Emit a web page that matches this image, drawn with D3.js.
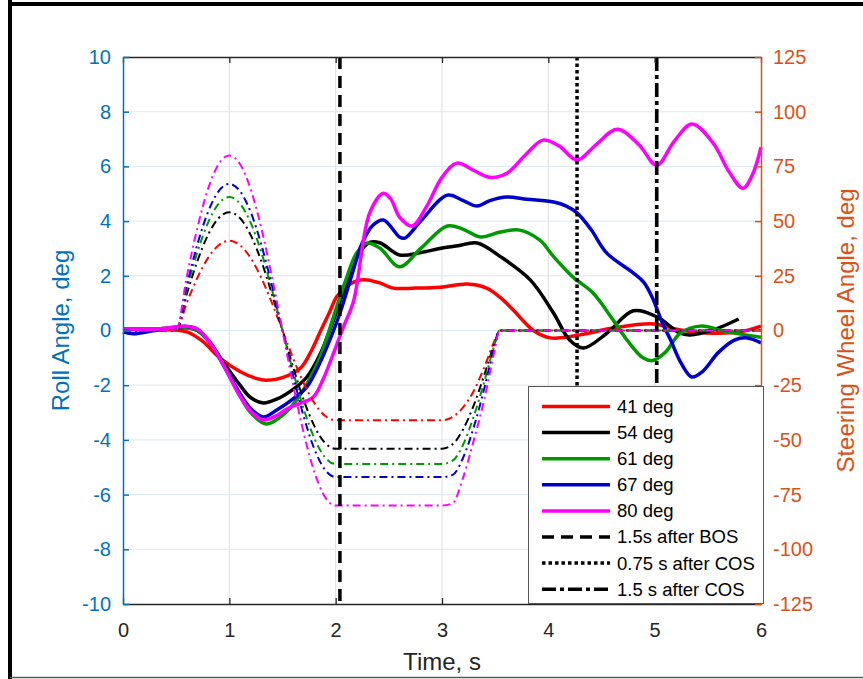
<!DOCTYPE html>
<html>
<head>
<meta charset="utf-8">
<script src="https://cdn.jsdelivr.net/npm/d3@7"></script>
<style>
  body { margin: 0; background: #fff; }
  text { font-family: "Liberation Sans", Arial, sans-serif; }
</style>
</head>
<body>
<div id="app"></div>
<script>
// roll angle (left axis), [time, deg]
const roll41 = [[0,0.05],[0.3,0.03],[0.6,-0.05],[0.75,-0.4],[0.91,-1.0],[1.1,-1.5],[1.25,-1.75],[1.35,-1.82],[1.5,-1.72],[1.67,-1.37],[1.77,-0.75],[1.86,0],[1.94,0.65],[2.01,1.23],[2.1,1.6],[2.2,1.82],[2.3,1.85],[2.42,1.73],[2.54,1.55],[2.75,1.55],[2.98,1.58],[3.24,1.7],[3.42,1.55],[3.55,1.2],[3.67,0.75],[3.86,0],[4.02,-0.27],[4.3,-0.16],[4.61,0.09],[4.99,0.24],[5.24,0.02],[5.55,-0.1],[5.8,-0.05],[6.0,0.16]]
const roll54 = [[0,0.05],[0.3,0.05],[0.6,0.1],[0.7,0.0],[0.82,-0.45],[0.95,-1.2],[1.1,-2.0],[1.2,-2.45],[1.32,-2.65],[1.45,-2.5],[1.6,-2.15],[1.73,-1.7],[1.85,-0.9],[1.98,0.38],[2.1,1.7],[2.2,2.7],[2.32,3.22],[2.42,3.2],[2.6,2.76],[2.8,2.85],[2.98,3.0],[3.15,3.1],[3.33,3.2],[3.55,2.7],[3.83,1.85],[4.05,0.63],[4.2,-0.35],[4.33,-0.64],[4.55,-0.1],[4.8,0.72],[5.02,0.5],[5.24,-0.1],[5.33,-0.16],[5.55,0.02],[5.79,0.42]]
const roll61 = [[0,0.05],[0.3,0.05],[0.6,0.1],[0.7,0.0],[0.82,-0.45],[0.95,-1.3],[1.1,-2.4],[1.2,-3.0],[1.35,-3.42],[1.5,-3.1],[1.6,-2.7],[1.73,-1.95],[1.85,-1.0],[1.98,0.5],[2.1,1.9],[2.2,2.85],[2.3,3.2],[2.42,3.0],[2.6,2.33],[2.8,3.0],[3.05,3.82],[3.2,3.7],[3.36,3.42],[3.55,3.6],[3.73,3.67],[3.92,3.3],[4.05,2.7],[4.23,1.96],[4.42,1.37],[4.61,0.38],[4.75,-0.4],[4.89,-1.0],[4.98,-1.1],[5.1,-0.8],[5.24,-0.1],[5.43,0.16],[5.68,-0.05],[6.0,-0.25]]
const roll67 = [[0,-0.05],[0.1,-0.12],[0.3,0],[0.6,0.15],[0.7,0.05],[0.82,-0.45],[0.95,-1.3],[1.1,-2.3],[1.2,-2.85],[1.32,-3.16],[1.45,-2.9],[1.6,-2.5],[1.73,-2.06],[1.85,-1.2],[1.95,-0.3],[2.04,0.63],[2.15,2.0],[2.25,3.2],[2.35,3.85],[2.45,4.04],[2.6,3.42],[2.65,3.38],[2.8,4.0],[3.05,4.95],[3.2,4.75],[3.33,4.55],[3.45,4.75],[3.61,4.88],[3.8,4.8],[4.05,4.7],[4.17,4.55],[4.27,4.3],[4.4,3.7],[4.55,2.83],[4.8,2.1],[4.9,1.75],[4.99,1.1],[5.07,0.3],[5.15,-0.35],[5.25,-1.2],[5.35,-1.7],[5.45,-1.5],[5.6,-0.8],[5.75,-0.35],[5.87,-0.27],[6.0,-0.45]]
const roll80 = [[0,0.05],[0.3,0.05],[0.6,0.15],[0.7,0.05],[0.82,-0.45],[0.95,-1.3],[1.1,-2.4],[1.2,-2.95],[1.32,-3.27],[1.45,-3.1],[1.55,-2.85],[1.67,-2.66],[1.79,-2.43],[1.88,-1.8],[1.98,-0.83],[2.07,0.1],[2.17,1.1],[2.32,4.3],[2.45,5.02],[2.52,4.8],[2.6,4.15],[2.72,3.82],[2.85,4.5],[3.0,5.6],[3.14,6.12],[3.3,5.85],[3.45,5.6],[3.61,5.75],[3.78,6.4],[3.95,6.96],[4.1,6.75],[4.27,6.23],[4.45,6.8],[4.65,7.36],[4.85,6.8],[5.02,6.04],[5.18,6.9],[5.35,7.55],[5.55,6.85],[5.7,5.8],[5.83,5.2],[5.92,5.7],[6.0,6.7]]

// steering wheel angle (right axis), deg
const steerTime = [0, 0.5, 0.6, 0.7, 0.8, 0.9, 1.0, 1.1, 1.2, 1.3, 1.4, 1.5, 1.6, 1.7, 1.8, 1.9, 2.0, 3.0, 3.1, 3.2, 3.3, 3.4, 3.5, 3.54, 6.0]
const steer41 = [0, 0, 12.7, 24.1, 33.2, 39.0, 41, 39.0, 33.2, 24.1, 12.7, 0, -12.7, -24.1, -33.2, -39.0, -41, -41, -39.5, -35, -27.5, -16.5, -4, 0, 0]
const steer54 = [0, 0, 16.7, 31.8, 43.7, 51.4, 54, 51.4, 43.7, 31.8, 16.7, 0, -16.7, -31.8, -43.7, -51.4, -54, -54, -52, -45, -34, -20, -5, 0, 0]
const steer61 = [0, 0, 18.8, 35.9, 49.3, 58.0, 61, 58.0, 49.3, 35.9, 18.8, 0, -18.8, -35.9, -49.3, -58.0, -61, -61, -59.5, -52, -39, -23, -5.5, 0, 0]
const steer67 = [0, 0, 20.7, 39.4, 54.2, 63.7, 67, 63.7, 54.2, 39.4, 20.7, 0, -20.7, -39.4, -54.2, -63.7, -67, -67, -66, -58, -44, -26, -6, 0, 0]
const steer80 = [0, 0, 24.7, 47.0, 64.7, 76.1, 80, 76.1, 64.7, 47.0, 24.7, 0, -24.7, -47.0, -64.7, -76.1, -80, -80, -79, -67, -50, -31, -8, 0, 0]

const seriesNames = ['41 deg', '54 deg', '61 deg', '67 deg', '80 deg']
const seriesColors = ['#ff0000', '#000000', '#009900', '#0000cc', '#ff00ff']

const eventNames = ['1.5s after BOS', '0.75 s after COS', '1.5 s after COS']
const eventTimes = [2.04, 4.27, 5.02]
const eventDash = ['12,7', '3.5,3', '14,4,4,4']

const timeTicks = [0, 1, 2, 3, 4, 5, 6]
const rollTicks = [-10, -8, -6, -4, -2, 0, 2, 4, 6, 8, 10]
const steerTicks = [-125, -100, -75, -50, -25, 0, 25, 50, 75, 100, 125]

;(function (d3) {
  'use strict'
  const W = 863, H = 679
  const m = {left: 123, right: 761, top: 57, bottom: 604}
  const blue = '#0072BD', orange = '#D95319', dark = '#262626'
  const plain = d => String(d)

  const svg = d3.select('#app').append('svg')
    .attr('width', W).attr('height', H)

  // figure frame
  svg.append('line').attr('x1', 10).attr('x2', 10).attr('y1', 0).attr('y2', H)
    .attr('stroke', '#000').attr('stroke-width', 4)
  svg.append('line').attr('x1', 8).attr('x2', W).attr('y1', 4).attr('y2', 4)
    .attr('stroke', '#000').attr('stroke-width', 4)
  svg.append('line').attr('x1', 10).attr('x2', W).attr('y1', 677.5).attr('y2', 677.5)
    .attr('stroke', '#5a5a5a').attr('stroke-width', 1.5)

  const x = d3.scaleLinear().domain([0, 6]).range([m.left, m.right])
  const yRoll = d3.scaleLinear().domain([-10, 10]).range([m.bottom, m.top])
  const ySteer = d3.scaleLinear().domain([-125, 125]).range([m.bottom, m.top])

  // grid
  const grid = svg.append('g')
  grid.selectAll('.vg').data(timeTicks.slice(1, -1)).enter().append('line')
    .attr('x1', d => x(d)).attr('x2', d => x(d))
    .attr('y1', m.top).attr('y2', m.bottom)
    .attr('stroke', '#dedede').attr('stroke-width', 1)
  grid.selectAll('.hg').data(rollTicks.slice(1, -1)).enter().append('line')
    .attr('x1', m.left).attr('x2', m.right)
    .attr('y1', d => yRoll(d)).attr('y2', d => yRoll(d))
    .attr('stroke', '#dbe8f3').attr('stroke-width', 1)

  // roll lines
  const rollLine = d3.line()
    .x(d => x(d[0])).y(d => yRoll(d[1]))
    .curve(d3.curveCatmullRom.alpha(0.5))
  const rollData = [roll41, roll54, roll61, roll67, roll80]
  svg.append('g').selectAll('path').data(rollData).enter().append('path')
    .attr('d', rollLine)
    .attr('fill', 'none')
    .attr('stroke', (d, i) => seriesColors[i])
    .attr('stroke-width', 3.5)
    .attr('stroke-linejoin', 'round')

  // steering lines
  const steerLine = d3.line()
    .x((d, i) => x(steerTime[i])).y(d => ySteer(d))
    .curve(d3.curveMonotoneX)
  const steerData = [steer41, steer54, steer61, steer67, steer80]
  svg.append('g').selectAll('path').data(steerData).enter().append('path')
    .attr('d', steerLine)
    .attr('fill', 'none')
    .attr('stroke', (d, i) => seriesColors[i])
    .attr('stroke-width', 2)
    .attr('stroke-dasharray', '8,4,2,4')

  // event markers
  svg.append('g').selectAll('line').data(eventTimes).enter().append('line')
    .attr('x1', d => x(d)).attr('x2', d => x(d))
    .attr('y1', m.top).attr('y2', m.bottom)
    .attr('stroke', '#000').attr('stroke-width', 3.5)
    .attr('stroke-dasharray', (d, i) => eventDash[i])

  // axes
  const fs = '20px'
  const gx = svg.append('g').attr('transform', 'translate(0,' + m.bottom + ')')
    .call(d3.axisBottom(x).tickValues(timeTicks).tickFormat(plain).tickSizeInner(-6).tickSizeOuter(0).tickPadding(19))
  gx.selectAll('path,line').attr('stroke', dark).attr('stroke-width', 1.3)
  gx.selectAll('text').attr('fill', dark).style('font-size', fs)

  const gt = svg.append('g').attr('transform', 'translate(0,' + m.top + ')')
    .call(d3.axisTop(x).tickValues(timeTicks).tickSizeInner(-6).tickSizeOuter(0).tickFormat(''))
  gt.selectAll('path,line').attr('stroke', dark).attr('stroke-width', 1.3)

  const gl = svg.append('g').attr('transform', 'translate(' + m.left + ',0)')
    .call(d3.axisLeft(yRoll).tickValues(rollTicks).tickFormat(plain).tickSizeInner(-6).tickSizeOuter(0).tickPadding(12))
  gl.selectAll('path,line').attr('stroke', blue).attr('stroke-width', 1.5)
  gl.selectAll('text').attr('fill', blue).style('font-size', fs)

  const gr = svg.append('g').attr('transform', 'translate(' + m.right + ',0)')
    .call(d3.axisRight(ySteer).tickValues(steerTicks).tickFormat(plain).tickSizeInner(-6).tickSizeOuter(0).tickPadding(12))
  gr.selectAll('path,line').attr('stroke', orange).attr('stroke-width', 1.5)
  gr.selectAll('text').attr('fill', orange).style('font-size', fs)

  // axis titles
  svg.append('text').attr('x', (m.left + m.right) / 2).attr('y', 670)
    .attr('text-anchor', 'middle').attr('fill', dark).style('font-size', '24px')
    .text('Time, s')
  svg.append('text').attr('transform', 'translate(61,' + (m.top + m.bottom) / 2 + ') rotate(-90)')
    .attr('text-anchor', 'middle').attr('dy', '0.35em').attr('fill', blue).style('font-size', '24px')
    .text('Roll Angle, deg')
  svg.append('text').attr('transform', 'translate(846,' + (m.top + m.bottom) / 2 + ') rotate(-90)')
    .attr('text-anchor', 'middle').attr('dy', '0.35em').attr('fill', orange).style('font-size', '24px')
    .text('Steering Wheel Angle, deg')

  // legend
  const lg = svg.append('g')
  lg.append('rect').attr('x', 528.5).attr('y', 386.5).attr('width', 235).attr('height', 217)
    .attr('fill', '#fff').attr('stroke', '#555').attr('stroke-width', 1)
  const items = seriesNames.map((n, i) => ({name: n, color: seriesColors[i], dash: null, w: 3.5}))
    .concat(eventNames.map((n, i) => ({name: n, color: '#000', dash: eventDash[i], w: 3.5})))
  const row = lg.selectAll('.item').data(items).enter().append('g')
    .attr('transform', (d, i) => 'translate(0,' + (406.5 + i * 26.1) + ')')
  row.append('line').attr('x1', 542).attr('x2', 610)
    .attr('stroke', d => d.color).attr('stroke-width', d => d.w)
    .attr('stroke-dasharray', d => d.dash)
  row.append('text').attr('x', 617).attr('dy', '0.35em')
    .attr('fill', '#000').style('font-size', '18.5px')
    .text(d => d.name)
}(d3))
</script>
</body>
</html>
